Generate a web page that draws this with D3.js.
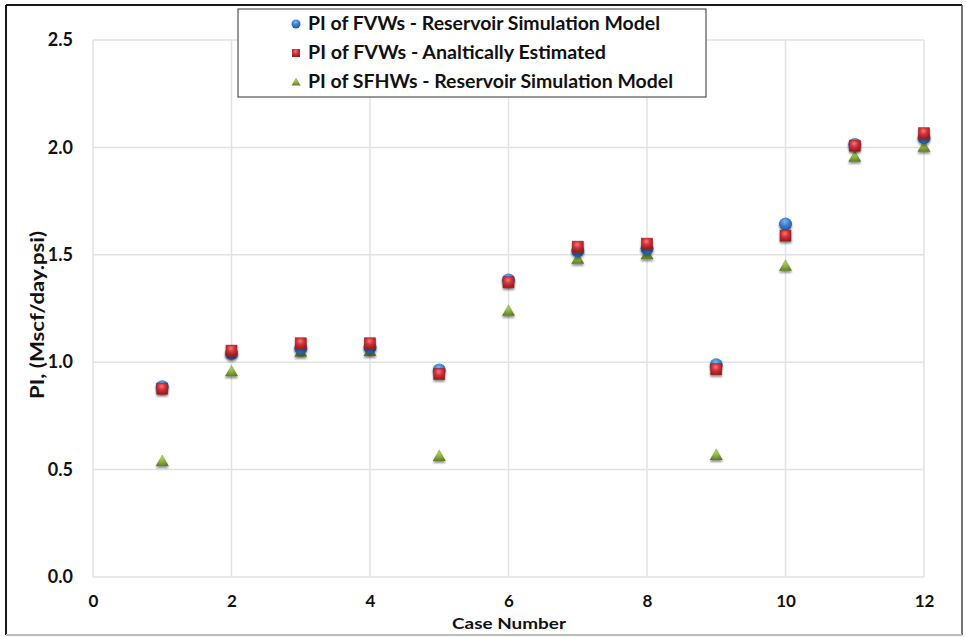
<!DOCTYPE html>
<html>
<head>
<meta charset="utf-8">
<script src="https://cdn.jsdelivr.net/npm/d3@7/dist/d3.min.js"></script>
<style>
  html, body { margin: 0; padding: 0; background: #fff; }
  svg { display: block; }
  text { font-family: Lato, "Open Sans", "DejaVu Sans", sans-serif; font-weight: 700; fill: #111; }
</style>
</head>
<body>
<svg id="chart" width="966" height="637"></svg>
<script>
// Case numbers and productivity index values (Mscf/day.psi)
const cases = [1, 2, 3, 4, 5, 6, 7, 8, 9, 10, 11, 12];
const fvwSimulated = [0.886, 1.041, 1.065, 1.069, 0.964, 1.383, 1.519, 1.529, 0.988, 1.643, 2.014, 2.045];
const fvwAnalytical = [0.877, 1.054, 1.088, 1.088, 0.945, 1.372, 1.538, 1.552, 0.967, 1.589, 2.008, 2.066];
const sfhwSimulated = [0.540, 0.958, 1.049, 1.052, 0.563, 1.240, 1.482, 1.502, 0.568, 1.449, 1.957, 2.003];

const xTicks = [0, 2, 4, 6, 8, 10, 12];
const yTicks = [0.0, 0.5, 1.0, 1.5, 2.0, 2.5];

const seriesNames = [
  "PI of FVWs - Reservoir Simulation Model",
  "PI of FVWs - Analtically Estimated",
  "PI of SFHWs - Reservoir Simulation Model"
];

const svg = d3.select("#chart");
const W = 966, H = 637;
const plot = { left: 93, right: 924, top: 40, bottom: 577 };

const x = d3.scaleLinear().domain([0, 12]).range([plot.left, plot.right]);
const y = d3.scaleLinear().domain([0, 2.5]).range([plot.bottom, plot.top]);

// gradients and shadow for the 3-D looking markers
const defs = svg.append("defs");
function radial(id, stops) {
  const g = defs.append("radialGradient").attr("id", id)
    .attr("cx", "45%").attr("cy", "30%").attr("r", "75%");
  stops.forEach(([o, c]) => g.append("stop").attr("offset", o).attr("stop-color", c));
}
radial("gBlue", [["0%", "#7fb3ec"], ["45%", "#3d7fcc"], ["100%", "#1f4f8f"]]);
radial("gRed", [["0%", "#f07a7a"], ["45%", "#d42f34"], ["100%", "#8e1a1d"]]);
radial("gGreen", [["0%", "#a9cc62"], ["50%", "#84ab3a"], ["100%", "#5b7a22"]]);
const sh = defs.append("filter").attr("id", "shadow")
  .attr("x", "-50%").attr("y", "-50%").attr("width", "200%").attr("height", "200%");
sh.append("feGaussianBlur").attr("in", "SourceAlpha").attr("stdDeviation", 1.3).attr("result", "b");
sh.append("feOffset").attr("in", "b").attr("dy", 1.8).attr("result", "o");
sh.append("feComponentTransfer").attr("in", "o").attr("result", "s")
  .append("feFuncA").attr("type", "linear").attr("slope", 0.45);
const m = sh.append("feMerge");
m.append("feMergeNode").attr("in", "s");
m.append("feMergeNode").attr("in", "SourceGraphic");

// outer frame
svg.append("rect").attr("x", 0).attr("y", 0).attr("width", W).attr("height", H).attr("fill", "#fff");
svg.append("line").attr("x1", 6).attr("x2", 6).attr("y1", 5).attr("y2", 635).attr("stroke", "#1a1a1a").attr("stroke-width", 2);
svg.append("line").attr("x1", 6).attr("x2", 962).attr("y1", 5).attr("y2", 5).attr("stroke", "#1a1a1a").attr("stroke-width", 2);
svg.append("line").attr("x1", 962).attr("x2", 962).attr("y1", 5).attr("y2", 635).attr("stroke", "#444").attr("stroke-width", 1.5);
svg.append("line").attr("x1", 6).attr("x2", 962).attr("y1", 635).attr("y2", 635).attr("stroke", "#bbb").attr("stroke-width", 2);

// grid
const grid = svg.append("g");
grid.selectAll(".hg").data(yTicks).join("line")
  .attr("x1", plot.left).attr("x2", plot.right)
  .attr("y1", d => y(d)).attr("y2", d => y(d))
  .attr("stroke", "#e2e2e2").attr("stroke-width", 1.5);
grid.selectAll(".vg").data(xTicks).join("line")
  .attr("x1", d => x(d)).attr("x2", d => x(d))
  .attr("y1", plot.top).attr("y2", plot.bottom)
  .attr("stroke", "#e2e2e2").attr("stroke-width", 1.5);

// axes (tick labels only)
const xAxis = svg.append("g").attr("transform", `translate(0,${plot.bottom + 15})`)
  .call(d3.axisBottom(x).tickValues(xTicks).tickFormat(d3.format("d")).tickSize(0));
xAxis.select(".domain").remove();
xAxis.selectAll("text").attr("font-size", 17).attr("dy", "0.71em")
  .style("font-family", "Lato, sans-serif").style("font-weight", 700).attr("fill", "#111");

const yAxis = svg.append("g").attr("transform", `translate(${plot.left - 20},0)`)
  .call(d3.axisLeft(y).tickValues(yTicks).tickFormat(d3.format(".1f")).tickSize(0));
yAxis.select(".domain").remove();
yAxis.selectAll("text").attr("font-size", 18).attr("x", 0)
  .style("font-family", "Lato, sans-serif").style("font-weight", 700).attr("fill", "#111");

// axis titles
svg.append("text").attr("x", 509).attr("y", 629)
  .attr("text-anchor", "middle").attr("font-size", 16)
  .attr("textLength", 114).attr("lengthAdjust", "spacingAndGlyphs").text("Case Number");
svg.append("text").attr("transform", `translate(37,315) rotate(-90)`)
  .attr("text-anchor", "middle").attr("dy", "0.35em").attr("font-size", 19)
  .attr("textLength", 168).attr("lengthAdjust", "spacingAndGlyphs").text("PI, (Mscf/day.psi)");

// marker drawing helpers
const markers = [
  { values: fvwSimulated, draw: (g) => g.append("circle").attr("r", 6.5).attr("fill", "url(#gBlue)") },
  { values: fvwAnalytical, draw: (g) => g.append("rect").attr("x", -5.5).attr("y", -5.5).attr("width", 11).attr("height", 11)
      .attr("fill", "url(#gRed)").attr("stroke", "#9a2024").attr("stroke-width", 0.6) },
  { values: sfhwSimulated, draw: (g) => g.append("path").attr("d", "M0,-6.5L6.5,5L-6.5,5Z").attr("fill", "url(#gGreen)") }
];

// draw order: triangles first, then circles, then squares on top
[2, 0, 1].forEach(si => {
  const s = markers[si];
  const g = svg.append("g").attr("filter", "url(#shadow)");
  g.selectAll("g").data(cases.map((c, i) => ({ c, v: s.values[i] }))).join("g")
    .attr("transform", d => `translate(${x(d.c)},${y(d.v)})`)
    .each(function () { s.draw(d3.select(this)); });
});

// legend
const lg = svg.append("g");
lg.append("rect").attr("x", 238).attr("y", 9).attr("width", 468).attr("height", 88)
  .attr("fill", "#fff").attr("stroke", "#333").attr("stroke-width", 1);
const rowY = [24, 53, 82];
const legendWidths = [352, 298, 365];
seriesNames.forEach((name, i) => {
  const g = lg.append("g").attr("transform", `translate(296,${rowY[i]})`);
  const mk = g.append("g");
  if (i === 0) mk.append("circle").attr("r", 4.5).attr("fill", "url(#gBlue)");
  if (i === 1) mk.append("rect").attr("x", -4).attr("y", -4).attr("width", 8).attr("height", 8).attr("fill", "url(#gRed)");
  if (i === 2) mk.append("path").attr("d", "M0,-4.5L4.5,3.5L-4.5,3.5Z").attr("fill", "url(#gGreen)");
  g.append("text").attr("x", 12).attr("dy", "0.36em").attr("font-size", 18)
    .attr("textLength", legendWidths[i]).attr("lengthAdjust", "spacingAndGlyphs").text(name);
});
</script>
</body>
</html>
